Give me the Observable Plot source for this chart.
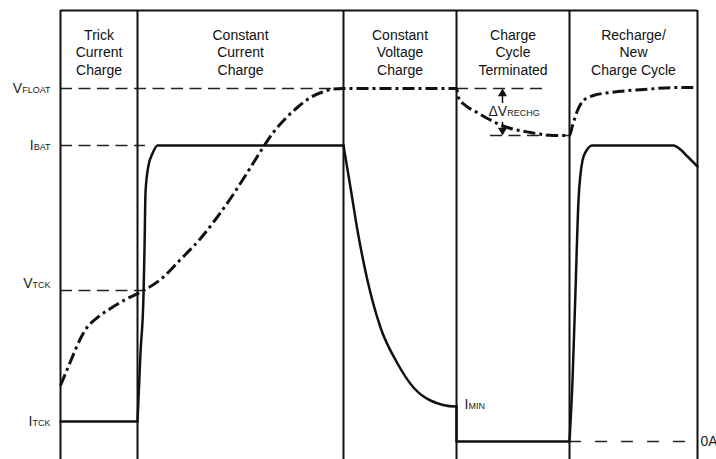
<!DOCTYPE html>
<html>
<head>
<meta charset="utf-8">
<script src="https://cdn.jsdelivr.net/npm/d3@7"></script>
<script src="https://cdn.jsdelivr.net/npm/@observablehq/plot@0.6"></script>
<style>
  html, body { margin: 0; padding: 0; background: #fff; }
  svg { display: block; }
</style>
</head>
<body>
<div id="chart"></div>
<script>
// ---- time axis (arbitrary time units) ----
const phaseBounds = [0, 77, 283, 396, 509, 637];
const phaseLabels = [
  "Trick\nCurrent\nCharge",
  "Constant\nCurrent\nCharge",
  "Constant\nVoltage\nCharge",
  "Charge\nCycle\nTerminated",
  "Recharge/\nNew\nCharge Cycle"
];
const levelMin = -18;
const levelMax = 431;

// ---- reference levels (arbitrary units) ----
const vFloat = 353;
const iBat = 296;
const vTck = 151;
const iTck = 20;
const iZero = 0;
const vRechg = 306;
const iMin = 35;

const levelNames = ["V_FLOAT", "I_BAT", "I_TCK"];
const levelValues = [vFloat, iBat, iTck];

// ---- battery voltage (dash-dot) ----
const voltagePts = [
  [0, 56], [5, 68], [10, 80], [15, 92], [20, 103], [25, 112], [30, 118], [37, 124],
  [50, 133], [65, 142], [83, 151], [100, 162], [120, 182], [140, 203], [155, 222],
  [170, 243], [185, 266], [200, 290], [212, 308], [225, 323], [238, 335], [250, 344],
  [262, 349.5], [272, 352.3], [283, 353],
  [396, 353], [398, 344], [405, 336], [415, 330], [427, 323], [447, 314], [470, 309],
  [493, 306], [509, 306], [512, 316], [517, 331], [523, 341], [533, 346], [550, 349],
  [583, 352], [617, 354], [637, 354]
];

// ---- charge current (solid) ----
const currentTrickle = [[0, 20], [77, 20]];
const currentRise = [[77, 20], [80, 89], [83, 146], [84, 192], [85, 249], [88, 276], [92, 288], [97, 296], [283, 296]];
const currentTaper = [[283, 296], [290, 254], [297, 211], [307, 161], [320, 114], [337, 78], [353, 54], [370, 41], [395, 35], [396, 35]];
const currentTerminated = [[396, 35], [396, 0], [509, 0]];
const currentRecharge = [[509, 0], [512, 61], [515, 151], [518, 241], [522, 281], [526, 291], [532, 296], [613, 296], [620, 292], [627, 285], [637, 275]];

// ---- dashed guide lines (level, from, to) ----
const guideLevels = [vFloat, iBat, vTck, vFloat, vRechg];
const guideFrom = [0, 0, 0, 396, 430];
const guideTo = [283, 85, 83, 488, 509];
const zeroFrom = 509, zeroTo = 628;
const rechgArrowT = 442;

const guides = guideLevels.map((l, i) => ({level: l, from: guideFrom[i], to: guideTo[i]}));
const xy = {x: d => d[0], y: d => d[1]};
const ink = "#111";
const span = vFloat - vRechg;

const svg = Plot.plot({
  width: 716,
  height: 459,
  marginLeft: 60,
  marginRight: 19,
  marginTop: 10,
  marginBottom: 0,
  x: {domain: [0, 637], axis: null},
  y: {domain: [levelMin, levelMax], axis: null},
  style: {fontFamily: "'Liberation Sans', Arial, sans-serif", fontSize: "14px", background: "#fff", color: ink},
  marks: [
    // guides
    Plot.ruleY(guides, {y: "level", x1: "from", x2: "to", stroke: "#222", strokeWidth: 1.3, strokeDasharray: "12,6.5"}),
    Plot.ruleY([iZero], {y: d => d, x1: () => zeroFrom, x2: () => zeroTo, stroke: "#222", strokeWidth: 1.3, strokeDasharray: "12,14"}),
    // frame & phase dividers
    Plot.ruleX(phaseBounds, {x: d => d, y1: () => levelMin, y2: () => levelMax, stroke: ink, strokeWidth: 2}),
    Plot.ruleY([levelMax], {y: d => d, x1: () => phaseBounds[0], x2: () => phaseBounds[phaseBounds.length - 1], stroke: ink, strokeWidth: 2}),
    // current
    Plot.line(currentTrickle, {...xy, stroke: ink, strokeWidth: 2.5}),
    Plot.line(currentRise, {...xy, stroke: ink, strokeWidth: 2.5, curve: "monotone-x"}),
    Plot.line(currentTaper, {...xy, stroke: ink, strokeWidth: 2.5, curve: "monotone-x"}),
    Plot.line(currentTerminated, {...xy, stroke: ink, strokeWidth: 2.5}),
    Plot.line(currentRecharge, {...xy, stroke: ink, strokeWidth: 2.5, curve: "monotone-x"}),
    // voltage
    Plot.line(voltagePts, {...xy, stroke: ink, strokeWidth: 3, curve: "monotone-x", strokeDasharray: "12,4,3,4", strokeLinecap: "butt"}),
    // delta V arrow
    Plot.ruleX([rechgArrowT], {x: d => d, y1: () => vFloat - 4, y2: () => vFloat - 0.32 * span, stroke: ink, strokeWidth: 1.5}),
    Plot.ruleX([rechgArrowT], {x: d => d, y1: () => vRechg + 0.28 * span, y2: () => vRechg + 4, stroke: ink, strokeWidth: 1.5}),
    Plot.dot([vFloat], {x: () => rechgArrowT, y: d => d, symbol: "triangle", r: 3.4, fill: ink, stroke: "none", dy: 5.2}),
    Plot.dot([vRechg], {x: () => rechgArrowT, y: d => d, symbol: "triangle", r: 3.4, fill: ink, stroke: "none", rotate: 180, dy: -5.2}),
    // labels
    Plot.text(phaseLabels, {x: (d, i) => (phaseBounds[i] + phaseBounds[i + 1]) / 2, y: () => levelMax, text: d => d, lineAnchor: "top", dy: 17.4, lineHeight: 1.23, fontSize: 14, fill: ink}),
    Plot.text(levelNames, {x: () => 0, y: (d, i) => levelValues[i], text: d => d, textAnchor: "end", dx: -10, fontSize: 14, fill: "#222"}),
    Plot.text(["V_TCK"], {x: () => 0, y: () => vTck, text: d => d, textAnchor: "end", dx: -10, dy: -7, fontSize: 14, fill: "#222"}),
    Plot.text(["I_MIN"], {x: () => phaseBounds[3], y: () => iMin, text: d => d, textAnchor: "start", dx: 8, dy: -2, fontSize: 14, fill: "#222"}),
    Plot.text(["0A"], {x: () => phaseBounds[5], y: () => iZero, text: d => d, textAnchor: "start", dx: 3, fontSize: 14, fill: "#222"}),
    Plot.text(["ΔV_RECHG"], {x: () => rechgArrowT, y: () => (vFloat + vRechg) / 2, text: d => d, textAnchor: "start", dx: -14, fontSize: 14, fill: "#222"})
  ]
});

// render subscripts (same baseline, smaller size)
svg.querySelectorAll("text").forEach(el => {
  const s = el.textContent;
  if (el.children.length === 0 && s.includes("_")) {
    const [main, sub] = s.split("_");
    el.textContent = "";
    const t1 = document.createElementNS("http://www.w3.org/2000/svg", "tspan");
    t1.textContent = main;
    const t2 = document.createElementNS("http://www.w3.org/2000/svg", "tspan");
    t2.textContent = sub;
    t2.setAttribute("font-size", "9");
    el.append(t1, t2);
  }
});

document.getElementById("chart").append(svg);
</script>
</body>
</html>
